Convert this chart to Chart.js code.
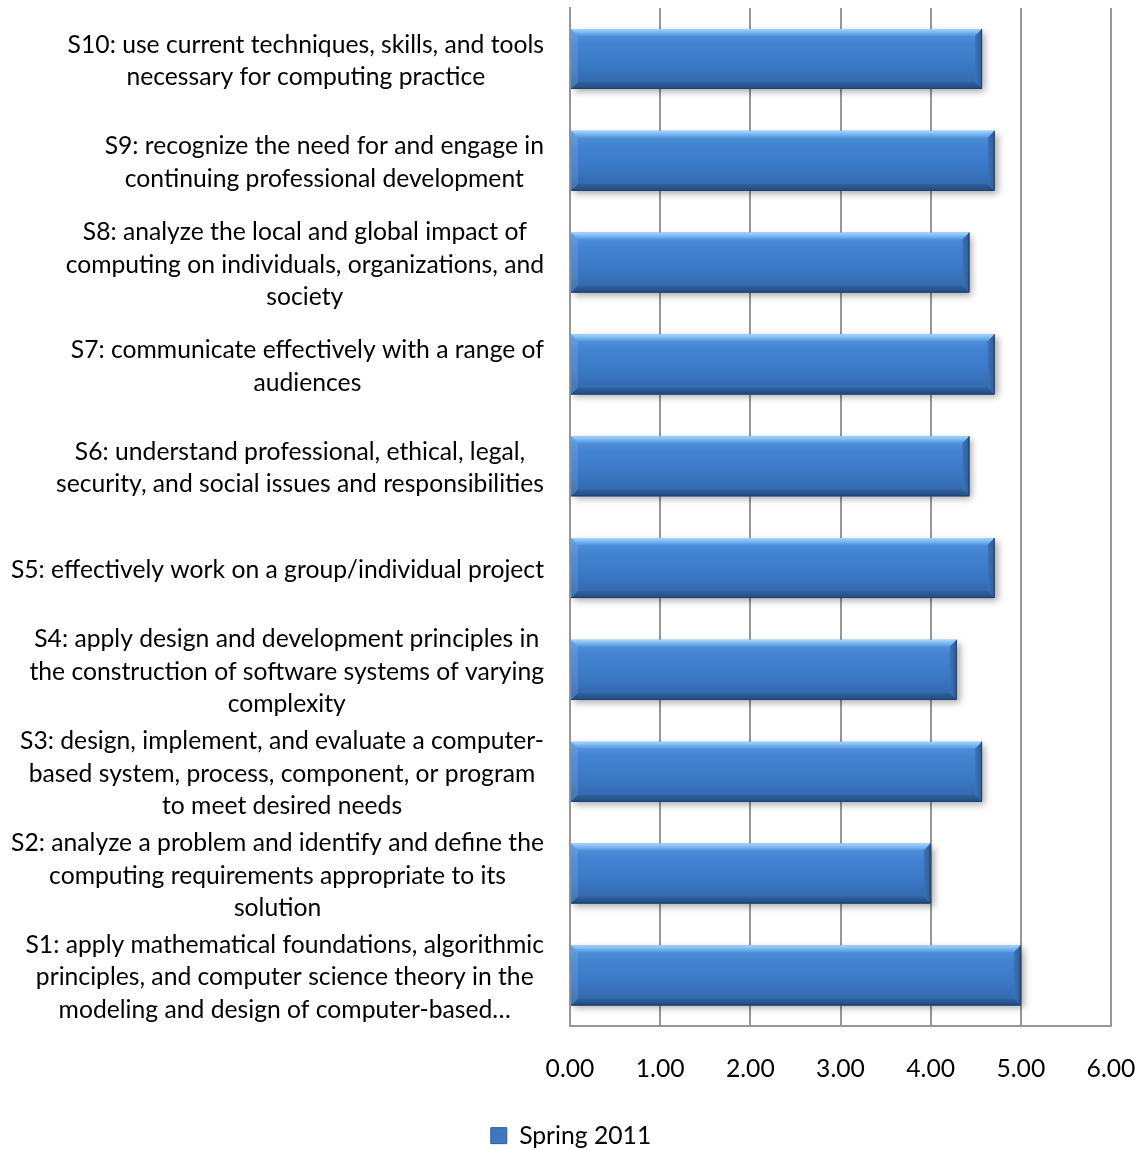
<!DOCTYPE html>
<html>
<head>
<meta charset="utf-8">
<title>Spring 2011</title>
<script src="https://cdn.jsdelivr.net/npm/chart.js@4.4.1/dist/chart.umd.min.js"></script>
<style>
    html, body { margin: 0; padding: 0; background: #fff; }
    #grafico { display: block; }
</style>
</head>
<body>
<canvas id="grafico" width="1142" height="1150"></canvas>
<script>
// ======================== DADOS ========================
// S1 (embaixo) até S10 (em cima), cada rótulo quebrado em linhas
const rotulos = [
    ['S1: apply mathematical foundations, algorithmic', 'principles, and computer science theory in the', 'modeling and design of computer-based…'],
    ['S2: analyze a problem and identify and define the', 'computing requirements appropriate to its', 'solution'],
    ['S3: design, implement, and evaluate a computer-', 'based system, process, component, or program', 'to meet desired needs'],
    ['S4: apply design and development principles in', 'the construction of software systems of varying', 'complexity'],
    ['S5: effectively work on a group/individual project'],
    ['S6: understand professional, ethical, legal,', 'security, and social issues and responsibilities'],
    ['S7: communicate effectively with a range of', 'audiences'],
    ['S8: analyze the local and global impact of', 'computing on individuals, organizations, and', 'society'],
    ['S9: recognize the need for and engage in', 'continuing professional development'],
    ['S10: use current techniques, skills, and tools', 'necessary for computing practice'],
];
const valores = [5.00, 4.00, 4.57, 4.29, 4.71, 4.43, 4.71, 4.43, 4.71, 4.57];
const serie = 'Spring 2011';
const escalaMin = 0;
const escalaMax = 6;
const escalaPasso = 1;

// ======================== ESTILO ========================
const FONTE = 'Lato, "DejaVu Sans", sans-serif';
const TAM = 24.7;
const ALTURA_LINHA = 32.5;
const COR_GRADE = '#969696';
const LARG_BARRA = 0.59;

// gradiente vertical do corpo da barra
function corBarra(c) {
    const chart = c.chart;
    const y = chart.scales && chart.scales.y;
    if (c.dataIndex === undefined || !y || !chart.chartArea) return '#3f7dca';
    const yc = y.getPixelForValue(c.dataIndex);
    const h = (y.height / rotulos.length) * LARG_BARRA;
    const g = chart.ctx.createLinearGradient(0, yc - h / 2, 0, yc + h / 2);
    g.addColorStop(0, '#5696e0');
    g.addColorStop(0.25, '#4283d1');
    g.addColorStop(0.6, '#3b79c5');
    g.addColorStop(1, '#3164a7');
    return g;
}

// ======================== PLUGINS ========================
// sombra + chanfro estilo 3D das barras
const chanfro = {
    id: 'chanfro',
    beforeDatasetsDraw(chart) {
        const ctx = chart.ctx;
        ctx.save();
        ctx.shadowColor = 'rgba(0,0,0,0.35)';
        ctx.shadowBlur = 7;
        ctx.shadowOffsetX = 3;
        ctx.shadowOffsetY = 3;
    },
    afterDatasetsDraw(chart) {
        const ctx = chart.ctx;
        ctx.restore();
        const meta = chart.getDatasetMeta(0);
        const b = 7;
        ctx.save();
        meta.data.forEach((el) => {
            const { x, y, base, height } = el.getProps(['x', 'y', 'base', 'height'], true);
            const x0 = Math.min(base, x), x1 = Math.max(base, x);
            const top = y - height / 2, bot = y + height / 2;

            // face de cima
            let g = ctx.createLinearGradient(0, top, 0, top + b);
            g.addColorStop(0, '#a6d5fb');
            g.addColorStop(0.45, '#7cbaf2');
            g.addColorStop(1, '#5394df');
            ctx.fillStyle = g;
            ctx.beginPath();
            ctx.moveTo(x0, top); ctx.lineTo(x1, top); ctx.lineTo(x1 - b, top + b); ctx.lineTo(x0 + b, top + b);
            ctx.closePath(); ctx.fill();

            // face de baixo
            g = ctx.createLinearGradient(0, bot - b, 0, bot);
            g.addColorStop(0, '#30629f');
            g.addColorStop(1, '#214a80');
            ctx.fillStyle = g;
            ctx.beginPath();
            ctx.moveTo(x0, bot); ctx.lineTo(x1, bot); ctx.lineTo(x1 - b, bot - b); ctx.lineTo(x0 + b, bot - b);
            ctx.closePath(); ctx.fill();

            // face da direita
            g = ctx.createLinearGradient(x1 - b, 0, x1, 0);
            g.addColorStop(0, '#3a74bb');
            g.addColorStop(1, '#2b5c99');
            ctx.fillStyle = g;
            ctx.beginPath();
            ctx.moveTo(x1, top); ctx.lineTo(x1, bot); ctx.lineTo(x1 - b, bot - b); ctx.lineTo(x1 - b, top + b);
            ctx.closePath(); ctx.fill();

            // face da esquerda
            ctx.fillStyle = 'rgba(255,255,255,0.10)';
            ctx.beginPath();
            ctx.moveTo(x0, top); ctx.lineTo(x0, bot); ctx.lineTo(x0 + b, bot - b); ctx.lineTo(x0 + b, top + b);
            ctx.closePath(); ctx.fill();

            // contorno escuro à direita e embaixo
            ctx.strokeStyle = '#1d416f';
            ctx.lineWidth = 1;
            ctx.beginPath();
            ctx.moveTo(x0, bot - 0.5); ctx.lineTo(x1 - 0.5, bot - 0.5); ctx.lineTo(x1 - 0.5, top);
            ctx.stroke();
        });
        ctx.restore();
    },
};

// rótulos do eixo Y: bloco alinhado à direita, linhas centralizadas
const rotulosEixo = {
    id: 'rotulosEixo',
    afterDraw(chart) {
        const { ctx, scales: { y } } = chart;
        ctx.save();
        ctx.font = `${TAM}px ${FONTE}`;
        ctx.fillStyle = '#000';
        ctx.textAlign = 'center';
        ctx.textBaseline = 'middle';
        const direita = y.right - 26;
        rotulos.forEach((linhas, i) => {
            const larg = Math.max(...linhas.map((l) => ctx.measureText(l).width));
            const cx = direita - larg / 2;
            const cy = y.getPixelForValue(i) + 2;
            linhas.forEach((l, k) => {
                ctx.fillText(l, cx, cy + (k - (linhas.length - 1) / 2) * ALTURA_LINHA);
            });
        });
        ctx.restore();
    },
};

// legenda um pouco mais abaixo
const legendaPos = {
    id: 'legendaPos',
    afterLayout(chart) {
        const lg = chart.legend;
        if (!lg) return;
        lg.top += 8;
        lg.bottom += 8;
    },
};

// ======================== GRÁFICO ========================
new Chart(document.getElementById('grafico'), {
    type: 'bar',
    data: {
        labels: rotulos.map((l) => l.join(' ')),
        datasets: [
            {
                label: serie,
                data: valores,
                backgroundColor: corBarra,
                borderWidth: 0,
                barPercentage: LARG_BARRA,
                categoryPercentage: 1,
            },
        ],
    },
    options: {
        indexAxis: 'y',
        responsive: false,
        animation: false,
        layout: { padding: { left: 10, right: 10, top: 8, bottom: 0 } },
        scales: {
            x: {
                min: escalaMin,
                max: escalaMax,
                ticks: {
                    stepSize: escalaPasso,
                    padding: 28,
                    color: '#000',
                    font: { family: FONTE, size: TAM },
                    callback: (v) => Number(v).toFixed(2),
                },
                grid: { color: COR_GRADE, lineWidth: 2, drawTicks: false },
                border: { display: true, color: COR_GRADE, width: 2 },
                afterFit: (s) => {
                    s.height = 87;
                    // o padding dos ticks não deve empurrar a borda direita
                    s.paddingRight = 31;
                    s.paddingLeft = 0;
                },
            },
            y: {
                reverse: true,
                ticks: { display: false },
                grid: { display: false, drawTicks: false },
                border: { display: true, color: COR_GRADE, width: 2 },
                afterFit: (s) => { s.width = 560; },
            },
        },
        plugins: {
            legend: {
                position: 'bottom',
                labels: {
                    boxWidth: 16,
                    boxHeight: 16,
                    padding: 2,
                    color: '#000',
                    font: { family: FONTE, size: TAM },
                    generateLabels: (chart) => [{
                        text: serie,
                        fillStyle: '#3d78c2',
                        strokeStyle: '#2a5b98',
                        lineWidth: 1,
                        datasetIndex: 0,
                    }],
                },
            },
            tooltip: { enabled: false },
        },
    },
    plugins: [chanfro, rotulosEixo, legendaPos],
});
</script>
</body>
</html>
